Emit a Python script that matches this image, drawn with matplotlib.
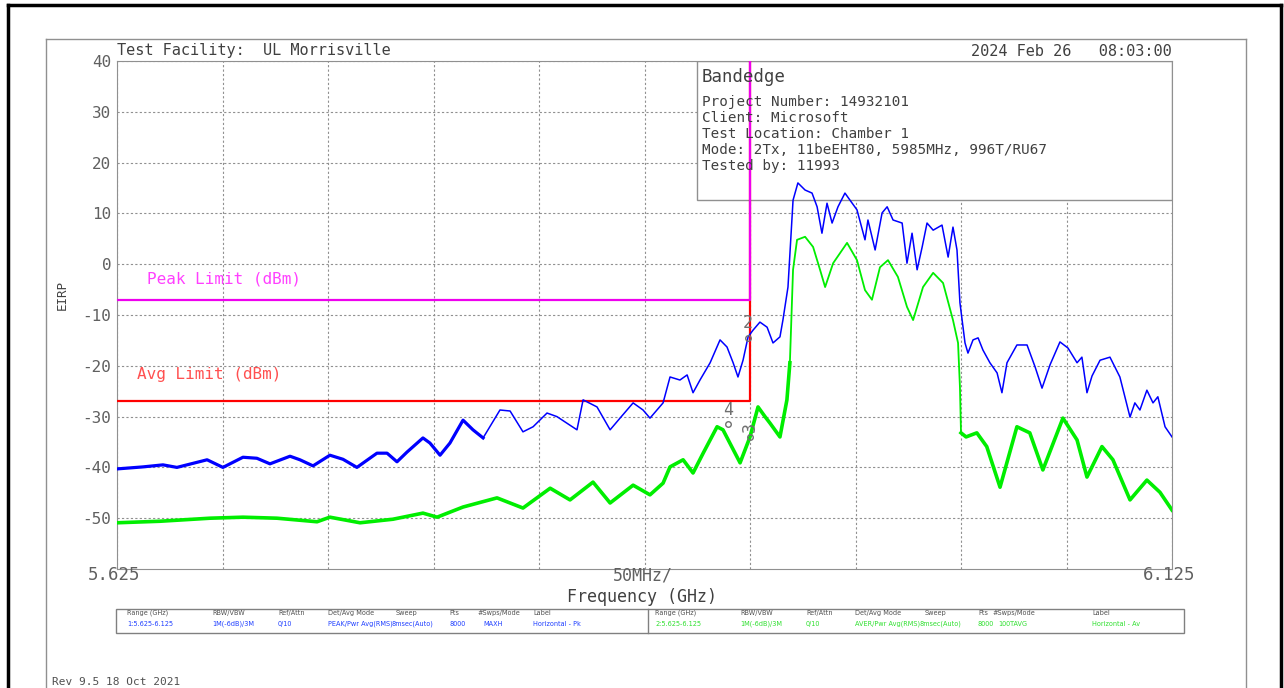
import matplotlib
matplotlib.use("Agg")
import matplotlib.pyplot as plt
from matplotlib.patches import Rectangle
from matplotlib.lines import Line2D

mono = "DejaVu Sans Mono"

# peak trace (blue), frequency in GHz, level in dBm
pk_f = [5.6250, 5.6373, 5.6468, 5.6534, 5.6677, 5.6752, 5.6847, 5.6913, 5.6975, 5.7070,
        5.7117, 5.7179, 5.7259, 5.7321, 5.7387, 5.7482, 5.7530, 5.7577, 5.7624, 5.7700,
        5.7733, 5.7781, 5.7828, 5.7890, 5.7937, 5.7985, 5.8065, 5.8113, 5.8174, 5.8222,
        5.8288, 5.8335, 5.8397, 5.8430, 5.8459, 5.8525, 5.8587, 5.8634, 5.8696, 5.8743,
        5.8776, 5.8838, 5.8871, 5.8918, 5.8952, 5.8980, 5.9013, 5.9061, 5.9108, 5.9141,
        5.9170, 5.9193, 5.9217, 5.9241, 5.9264, 5.9297, 5.9331, 5.9359, 5.9392, 5.9406,
        5.9430, 5.9454, 5.9477, 5.9511, 5.9544, 5.9568, 5.9591, 5.9615, 5.9639, 5.9667,
        5.9700, 5.9724, 5.9757, 5.9795, 5.9809, 5.9843, 5.9876, 5.9900, 5.9928, 5.9971,
        5.9994, 6.0018, 6.0042, 6.0066, 6.0089, 6.0118, 6.0160, 6.0189, 6.0212, 6.0231,
        6.0245, 6.0269, 6.0283, 6.0307, 6.0331, 6.0354, 6.0387, 6.0421, 6.0444, 6.0468,
        6.0515, 6.0563, 6.0601, 6.0634, 6.0672, 6.0719, 6.0757, 6.0800, 6.0823, 6.0847,
        6.0871, 6.0909, 6.0956, 6.1003, 6.1051, 6.1074, 6.1098, 6.1131, 6.1160, 6.1183,
        6.1217, 6.1250]
pk_db = [-40.3, -39.9, -39.5, -40.0, -38.5, -40.0, -38.0, -38.2, -39.3, -37.8,
         -38.5, -39.7, -37.6, -38.4, -40.0, -37.2, -37.2, -38.9, -37.0, -34.2,
         -35.2, -37.6, -35.2, -30.7, -32.6, -34.2, -28.7, -28.9, -33.0, -32.0,
         -29.3, -30.0, -31.7, -32.6, -26.7, -28.1, -32.6, -30.3, -27.3, -28.7,
         -30.3, -27.3, -22.2, -22.8, -21.8, -25.3, -22.8, -19.4, -14.9, -16.3,
         -19.4, -22.2, -18.9, -14.3, -13.0, -11.4, -12.4, -15.5, -14.3, -11.0,
         -4.5, 12.6, 16.0, 14.6, 14.0, 11.3, 6.1, 12.0, 8.1, 11.3,
         14.0, 12.6, 10.7, 4.8, 8.7, 2.8, 10.1, 11.3, 8.7, 8.1,
         0.2, 6.1, -1.1, 3.4, 8.1, 6.7, 7.7, 1.4, 7.3, 2.8,
         -7.6, -15.5, -17.5, -14.9, -14.5, -16.9, -19.4, -21.4, -25.3, -19.4,
         -15.9, -15.9, -20.2, -24.4, -19.8, -15.3, -16.5, -19.4, -18.3, -25.3,
         -22.0, -18.9, -18.3, -22.2, -30.1, -27.3, -28.7, -24.8, -27.3, -26.1,
         -32.0, -34.0]

# average trace (green)
av_f = [5.6250, 5.6454, 5.6691, 5.6847, 5.7008, 5.7198, 5.7259, 5.7402, 5.7558, 5.7700,
        5.7767, 5.7890, 5.8051, 5.8174, 5.8303, 5.8397, 5.8506, 5.8587, 5.8696, 5.8776,
        5.8838, 5.8871, 5.8933, 5.8980, 5.9028, 5.9094, 5.9122, 5.9203, 5.9250, 5.9288,
        5.9321, 5.9345, 5.9392, 5.9425, 5.9439, 5.9454, 5.9473, 5.9511, 5.9549, 5.9582,
        5.9606, 5.9644, 5.9710, 5.9757, 5.9795, 5.9828, 5.9866, 5.9904, 5.9951, 5.9994,
        6.0023, 6.0070, 6.0118, 6.0165, 6.0212, 6.0236, 6.0245, 6.0250, 6.0274, 6.0325,
        6.0372, 6.0435, 6.0515, 6.0576, 6.0638, 6.0733, 6.0800, 6.0847, 6.0918, 6.0970,
        6.1051, 6.1131, 6.1193, 6.1250]
av_db = [-50.9, -50.6, -50.0, -49.8, -50.0, -50.7, -49.8, -50.9, -50.2, -49.0,
         -49.8, -47.8, -46.0, -48.0, -44.1, -46.4, -42.9, -47.0, -43.5, -45.4,
         -43.1, -39.9, -38.5, -41.1, -37.2, -32.0, -32.6, -39.1, -34.0, -28.1,
         -30.0, -31.3, -34.0, -26.7, -19.4, -1.1, 4.8, 5.4, 3.4, -1.1,
         -4.5, 0.2, 4.2, 0.8, -5.1, -7.0, -0.6, 0.8, -2.5, -8.4,
         -11.0, -4.5, -1.7, -3.7, -11.0, -15.5, -24.2, -33.2, -34.0, -33.2,
         -35.9, -43.9, -32.0, -33.2, -40.5, -30.3, -34.6, -41.9, -35.9, -38.5,
         -46.4, -42.5, -44.9, -48.4]

peak_limit = -7
avg_limit = -27
limit_edge = 5.925

y_ticks = [40, 30, 20, 10, 0, -10, -20, -30, -40, -50]

info_lines = ["Project Number: 14932101", "Client: Microsoft", "Test Location: Chamber 1",
              "Mode: 2Tx, 11beEHT80, 5985MHz, 996T/RU67", "Tested by: 11993"]

hdr = ["Range (GHz)", "RBW/VBW", "Ref/Attn", "Det/Avg Mode", "Sweep", "Pts", "#Swps/Mode", "Label"]
row1 = ["1:5.625-6.125", "1M(-6dB)/3M", "0/10", "PEAK/Pwr Avg(RMS)", "8msec(Auto)", "8000", "MAXH", "Horizontal - Pk"]
row2 = ["2:5.625-6.125", "1M(-6dB)/3M", "0/10", "AVER/Pwr Avg(RMS)", "8msec(Auto)", "8000", "100TAVG", "Horizontal - Av"]

W, H = 1284, 688
fig = plt.figure(figsize=(W / 100, H / 100), dpi=100)

def fx(px):
    return px / W

def fy(py):
    return 1 - py / H

gray = "#606060"

# outer frames
fig.add_artist(Line2D([fx(8), fx(8)], [0, fy(5)], color="black", lw=2.5))
fig.add_artist(Line2D([fx(8), fx(1281)], [fy(5), fy(5)], color="black", lw=2.5))
fig.add_artist(Line2D([fx(1281), fx(1281)], [0, fy(5)], color="black", lw=2.5))
fig.add_artist(Line2D([fx(46), fx(46)], [0, fy(39)], color="#909090", lw=1))
fig.add_artist(Line2D([fx(46), fx(1246)], [fy(39), fy(39)], color="#909090", lw=1))
fig.add_artist(Line2D([fx(1246), fx(1246)], [0, fy(39)], color="#909090", lw=1))

ax = fig.add_axes([fx(117), fy(569), (1172 - 117) / W, (569 - 61) / H])
ax.set_xlim(5.625, 6.125)
ax.set_ylim(-60, 40)
ax.set_xticks([5.625 + 0.05 * i for i in range(11)])
ax.set_xticklabels([])
ax.set_yticks(y_ticks)
ax.set_yticklabels([str(v) for v in y_ticks], fontfamily=mono, fontsize=11.5, color=gray)
ax.tick_params(length=0, pad=4)
ax.set_axisbelow(True)
ax.grid(True, linestyle=(0, (2, 2)), color="#909090", lw=0.8)
for s in ax.spines.values():
    s.set_color("#909090")

# info box
ax.add_patch(Rectangle((fx(697), fy(200)), (1172 - 697) / W, (200 - 61) / H,
                       transform=fig.transFigure, facecolor="white", edgecolor="#909090",
                       lw=1, zorder=1))
fig.text(fx(702), fy(77), "Bandedge", fontfamily=mono, fontsize=12.5, color="#404040",
         va="center", zorder=5)
for i, line in enumerate(info_lines):
    fig.text(fx(702), fy(102 + 16 * i), line, fontfamily=mono, fontsize=10.3,
             color="#404040", va="center", zorder=5)

# limits
ax.plot([5.625, limit_edge, limit_edge], [avg_limit, avg_limit, 40], color="#ff0000", lw=1.6, zorder=3)
ax.plot([5.625, limit_edge, limit_edge], [peak_limit, peak_limit, 40], color="#ee00ee", lw=1.6, zorder=3)
ax.text(5.625 + (147 - 117) / 2110, -3.8, "Peak Limit (dBm)", fontfamily=mono, fontsize=11.5,
        color="#ff40ff")
ax.text(5.625 + (137 - 117) / 2110, -22.5, "Avg Limit (dBm)", fontfamily=mono, fontsize=11.5,
        color="#ff5050")

# traces: thin line overall, thicker where the trace is a noisy band
n_av_in = [i for i, f in enumerate(av_f) if f <= 5.9439]
n_av_out = [i for i, f in enumerate(av_f) if f >= 6.0250]
ax.plot(av_f, av_db, color="#00ee00", lw=1.3, zorder=4)
ax.plot([av_f[i] for i in n_av_in], [av_db[i] for i in n_av_in], color="#00ee00", lw=2.6, zorder=4)
ax.plot([av_f[i] for i in n_av_out], [av_db[i] for i in n_av_out], color="#00ee00", lw=2.6, zorder=4)
n_pk_in = [i for i, f in enumerate(pk_f) if f <= 5.8050]
ax.plot(pk_f, pk_db, color="#0000ff", lw=1.1, zorder=4)
ax.plot([pk_f[i] for i in n_pk_in], [pk_db[i] for i in n_pk_in], color="#0000ff", lw=2.3, zorder=4)

# markers
ax.text(5.9241, -12.6, "2", fontfamily=mono, fontsize=12, color="#707070", ha="center", zorder=6)
ax.plot([5.9241], [-14.6], marker="o", ms=4, mfc="none", mec="#707070", zorder=6)
ax.text(5.9146, -29.6, "4", fontfamily=mono, fontsize=12, color="#707070", ha="center", zorder=6)
ax.plot([5.9146], [-31.4], marker="o", ms=4, mfc="none", mec="#707070", zorder=6)
ax.text(5.9250, -32.0, "3", fontfamily=mono, fontsize=12, color="#707070", ha="center",
        va="center", rotation=90, zorder=6)
ax.plot([5.9250], [-34.0], marker="o", ms=4, mfc="none", mec="#707070", zorder=6)

# header texts
fig.text(fx(117), fy(51), "Test Facility:  UL Morrisville", fontfamily=mono, fontsize=11,
         color="#404040", va="center")
fig.text(fx(1172), fy(51), "2024 Feb 26   08:03:00", fontfamily=mono, fontsize=11,
         color="#404040", va="center", ha="right")
fig.text(fx(62), fy(295), "EIRP", fontfamily=mono, fontsize=9, color="#404040",
         rotation=90, va="center", ha="center")

# x-axis texts
fig.text(fx(88), fy(575), "5.625", fontfamily=mono, fontsize=12.5, color=gray, va="center")
fig.text(fx(643), fy(575), "50MHz/", fontfamily=mono, fontsize=12, color=gray, va="center", ha="center")
fig.text(fx(1195), fy(575), "6.125", fontfamily=mono, fontsize=12.5, color=gray, va="center", ha="right")
fig.text(fx(642), fy(597), "Frequency (GHz)", fontfamily=mono, fontsize=12, color="#404040",
         va="center", ha="center")

# settings table
fig.add_artist(Rectangle((fx(116), fy(633)), (1184 - 116) / W, (633 - 609) / H,
                         transform=fig.transFigure, fill=False, edgecolor="#808080", lw=1))
fig.add_artist(Line2D([fx(648), fx(648)], [fy(633), fy(609)], color="#808080", lw=1))
cols1 = [127, 212, 278, 328, 396, 449, 477, 533]
vals1 = [127, 212, 278, 328, 391, 449, 483, 533]
cols2 = [655, 740, 806, 855, 925, 978, 993, 1092]
vals2 = [655, 740, 806, 855, 920, 978, 998, 1092]
tkw = dict(family="DejaVu Sans", fontstretch="condensed", fontsize=5.2, va="center")
for i in range(len(hdr)):
    fig.text(fx(cols1[i]), fy(613), hdr[i], color="#505050", **tkw)
    fig.text(fx(cols2[i]), fy(613), hdr[i], color="#505050", **tkw)
    fig.text(fx(vals1[i]), fy(624), row1[i], color="#2040ff", **tkw)
    fig.text(fx(vals2[i]), fy(624), row2[i], color="#30e030", **tkw)

fig.text(fx(52), fy(682), "Rev 9.5 18 Oct 2021", fontfamily=mono, fontsize=8, color="#505050",
         va="center")

fig.savefig("out.png", dpi=100)
